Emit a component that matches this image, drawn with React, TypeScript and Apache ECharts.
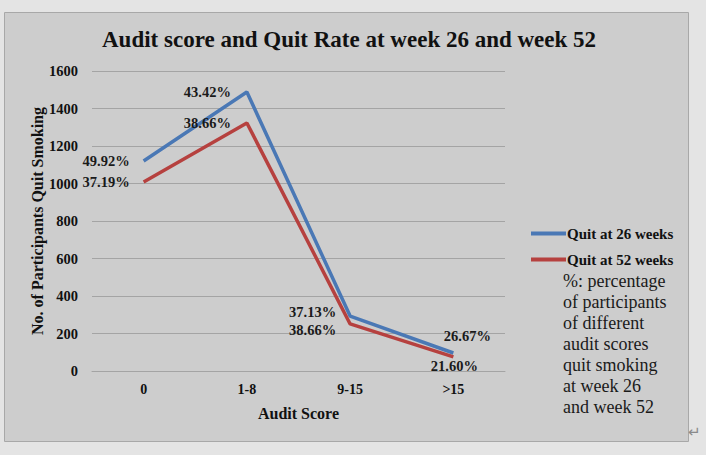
import React, { useEffect, useRef } from "react";
import * as echarts from "echarts";

const categories = ["0", "1-8", "9-15", ">15"];
const quit26 = [1120, 1488, 293, 96];
const quit52 = [1008, 1323, 251, 75];
const rate26 = ["49.92%", "43.42%", "37.13%", "26.67%"];
const rate52 = ["37.19%", "38.66%", "38.66%", "21.60%"];
const seriesNames = ["Quit at 26 weeks", "Quit at 52 weeks"];
const noteLines = [
  "%: percentage",
  "of participants",
  "of different",
  "audit scores",
  "quit smoking",
  "at week 26",
  "and week 52",
];

const FONT = "'Liberation Serif', 'Times New Roman', serif";

export default function App() {
  const ref = useRef<HTMLDivElement>(null);
  useEffect(() => {
    document.body.style.margin = "0";
    const chart = echarts.init(ref.current!, null, { renderer: "svg" });
    const lab = { fontFamily: FONT, fontWeight: "bold", fontSize: 14.5, color: "#1a1a1a", lineHeight: 14 };
    const pos26: any[] = [
      { position: "left", distance: 14 },
      { position: "left", distance: 16 },
      { position: "left", distance: 14, offset: [0, -4] },
      { position: "top", distance: 5, offset: [14, -5] },
    ];
    const pos52: any[] = [
      { position: "left", distance: 14 },
      { position: "left", distance: 16 },
      { position: "left", distance: 14, offset: [0, 6] },
      { position: "bottom", distance: 3, offset: [1, -1] },
    ];
    chart.setOption({
      animation: false,
      backgroundColor: "#e4e4e4",
      title: {
        text: "Audit score and Quit Rate at week 26 and week 52",
        left: 97,
        top: 23,
        textStyle: { fontFamily: FONT, fontWeight: "bold", fontSize: 23, color: "#111" },
      },
      graphic: [
        {
          type: "rect",
          z: -10,
          shape: { x: 4.5, y: 12.5, width: 684, height: 429 },
          style: { fill: "#cdcdcd", stroke: "#a8a8a8", lineWidth: 1 },
        },
        {
          type: "text",
          left: 563,
          top: 270,
          style: {
            text: noteLines.join("\n"),
            fontFamily: FONT,
            fontSize: 18,
            lineHeight: 21,
            fill: "#1a1a1a",
          },
        },
        {
          type: "text",
          left: 688,
          top: 424,
          style: { text: "\u21b5", fontFamily: "DejaVu Sans", fontSize: 15, fill: "#8a8a8a" },
        },
      ],
      legend: {
        orient: "vertical",
        left: 526,
        top: 221,
        itemWidth: 35,
        itemHeight: 4,
        itemGap: 11,
        icon: "rect",
        data: seriesNames,
        textStyle: { fontFamily: FONT, fontWeight: "bold", fontSize: 15, color: "#111", padding: [0, 0, 0, -4] },
      },
      grid: { left: 92, right: 201, top: 71, bottom: 84 },
      xAxis: {
        type: "category",
        data: categories,
        boundaryGap: true,
        name: "Audit Score",
        nameLocation: "middle",
        nameGap: 34,
        nameTextStyle: { fontFamily: FONT, fontWeight: "bold", fontSize: 16, color: "#111" },
        axisLine: { lineStyle: { color: "#a4a4a4" } },
        axisTick: { show: false },
        axisLabel: { margin: 11, fontFamily: FONT, fontWeight: "bold", fontSize: 14, color: "#111" },
      },
      yAxis: {
        type: "value",
        min: 0,
        max: 1600,
        interval: 200,
        name: "No. of Participants Quit Smoking",
        nameLocation: "middle",
        nameGap: 47,
        nameMoveOverlap: false,
        nameTextStyle: { fontFamily: FONT, fontWeight: "bold", fontSize: 16, color: "#111" },
        axisLine: { show: false },
        axisTick: { show: false },
        axisLabel: {
          margin: 14,
          formatter: (v: number) => String(v),
          fontFamily: FONT,
          fontWeight: "bold",
          fontSize: 14.5,
          color: "#111",
        },
        splitLine: { lineStyle: { color: "#a4a4a4" } },
      },
      series: [
        {
          name: seriesNames[0],
          type: "line",
          symbol: "circle",
          symbolSize: 0,
          showSymbol: true,
          color: "#4a78b5",
          lineStyle: { width: 3.5, color: "#4a78b5" },
          data: quit26.map((v, i) => ({
            value: v,
            label: { show: true, formatter: rate26[i], ...lab, ...pos26[i] },
          })),
        },
        {
          name: seriesNames[1],
          type: "line",
          symbol: "circle",
          symbolSize: 0,
          showSymbol: true,
          color: "#b6413f",
          lineStyle: { width: 3.5, color: "#b6413f" },
          data: quit52.map((v, i) => ({
            value: v,
            label: { show: true, formatter: rate52[i], ...lab, ...pos52[i] },
          })),
        },
      ],
    });
    return () => chart.dispose();
  }, []);
  return <div ref={ref} style={{ width: 706, height: 455 }} />;
}
